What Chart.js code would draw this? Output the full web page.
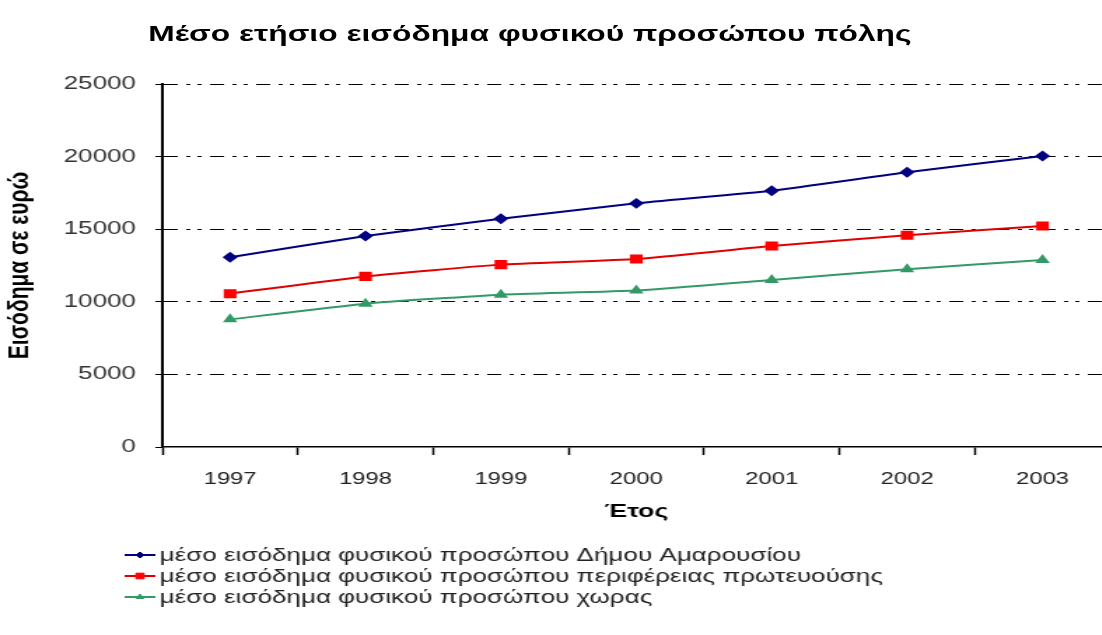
<!DOCTYPE html>
<html>
<head>
<meta charset="utf-8">
<script src="https://cdn.jsdelivr.net/npm/chart.js@4.4.1/dist/chart.umd.min.js"></script>
<style>
  html, body { margin: 0; padding: 0; background: #fff; overflow: hidden; }
  #stage {
    position: relative;
    width: 800px;
    height: 635px;
    transform: scaleX(1.4);
    transform-origin: 0 0;
  }
  #title {
    position: absolute;
    left: 0;
    top: 22px;
    width: 757px;
    text-align: center;
    font: bold 22.7px "Liberation Sans", Arial, sans-serif;
    line-height: 23px;
    color: #000;
  }
  #box { position: absolute; left: 0; top: 0; width: 800px; height: 635px; }
</style>
</head>
<body>
<div id="stage">
  <div id="title">Μέσο ετήσιο εισόδημα φυσικού προσώπου πόλης</div>
  <div id="box"><canvas id="incomeChart"></canvas></div>
</div>
<script>
const years = ["1997", "1998", "1999", "2000", "2001", "2002", "2003"];
const amarousio = [13070, 14530, 15720, 16780, 17650, 18920, 20040];
const capital = [10560, 11750, 12560, 12950, 13840, 14580, 15220];
const country = [8790, 9870, 10490, 10770, 11500, 12240, 12880];
const seriesNames = [
  "μέσο εισόδημα φυσικού προσώπου Δήμου Αμαρουσίου",
  "μέσο εισόδημα φυσικού προσώπου περιφέρειας πρωτευούσης",
  "μέσο εισόδημα φυσικού προσώπου χωρας",
];
const yTicks = [0, 5000, 10000, 15000, 20000, 25000];

const FONT = "'Liberation Sans', Arial, sans-serif";

// legend drawn inside the canvas, one row per series
const rowLegend = {
  id: "rowLegend",
  afterDraw(chart) {
    const ctx = chart.ctx;
    const rows = [555, 576, 597];
    chart.data.datasets.forEach((ds, i) => {
      const y = rows[i];
      ctx.save();
      ctx.strokeStyle = ds.borderColor;
      ctx.lineWidth = 2;
      ctx.beginPath();
      ctx.moveTo(89, y);
      ctx.lineTo(111, y);
      ctx.stroke();
      ctx.fillStyle = ds.pointBackgroundColor;
      ctx.strokeStyle = ds.pointBorderColor;
      ctx.lineWidth = 1;
      Chart.helpers.drawPoint(ctx, {
        pointStyle: ds.pointStyle,
        radius: ds.pointRadius - 1,
        rotation: 0,
        borderWidth: 1,
      }, 100, y);
      ctx.fillStyle = "#222";
      ctx.font = "18.6px " + FONT;
      ctx.textBaseline = "middle";
      ctx.textAlign = "left";
      ctx.fillText(ds.label, 114, y + 1);
      ctx.restore();
    });
  },
};

new Chart(document.getElementById("incomeChart"), {
  type: "line",
  data: {
    labels: years,
    datasets: [
      {
        label: seriesNames[0],
        data: amarousio,
        borderColor: "#000080",
        pointBackgroundColor: "#000080",
        pointBorderColor: "#000080",
        pointStyle: "rectRot",
        pointRadius: 4,
        borderWidth: 2,
        tension: 0.15,
      },
      {
        label: seriesNames[1],
        data: capital,
        borderColor: "#e00000",
        pointBackgroundColor: "#ff0000",
        pointBorderColor: "#ff0000",
        pointStyle: "rect",
        pointRadius: 5,
        borderWidth: 2,
        tension: 0.15,
      },
      {
        label: seriesNames[2],
        data: country,
        borderColor: "#339966",
        pointBackgroundColor: "#339966",
        pointBorderColor: "#339966",
        pointStyle: "triangle",
        pointRadius: 4,
        borderWidth: 2,
        tension: 0.15,
      },
    ],
  },
  options: {
    responsive: true,
    maintainAspectRatio: false,
    animation: false,
    layout: { padding: { top: 84, right: 5, bottom: 100, left: 0 } },
    plugins: {
      legend: { display: false },
      tooltip: { enabled: false },
    },
    scales: {
      x: {
        offset: true,
        afterFit: (scale) => { scale.height = 88; },
        grid: {
          offset: true,
          drawOnChartArea: false,
          drawTicks: true,
          tickLength: 8,
          tickColor: "#000",
          tickWidth: 1.5,
        },
        border: { color: "#000", width: 1.5 },
        ticks: {
          color: "#222",
          padding: 14,
          maxRotation: 0,
          font: { family: FONT, size: 17 },
        },
        title: {
          display: true,
          text: "Έτος",
          color: "#000",
          padding: { top: 0, bottom: 12 },
          font: { family: FONT, size: 19, weight: "bold" },
        },
      },
      y: {
        min: 0,
        max: 25000,
        afterFit: (scale) => { scale.width = 116; },
        afterBuildTicks: (scale) => {
          scale.ticks = yTicks.map((v) => ({ value: v }));
        },
        grid: {
          color: (c) => (c.tick && c.tick.value === 0 ? "rgba(0,0,0,0)" : "#000"),
          lineWidth: 1,
          drawTicks: true,
          tickLength: 5,
          tickColor: "#000",
          tickWidth: 1,
          tickBorderDash: [],
        },
        border: { color: "#000", width: 2, dash: [10, 6, 3, 5, 3, 6] },
        ticks: {
          color: "#333",
          padding: 14,
          font: { family: FONT, size: 18.5 },
          callback: (v) => String(v),
        },
        title: {
          display: true,
          text: "Εισόδημα σε ευρώ",
          color: "#000",
          padding: { top: 2, bottom: 0 },
          font: { family: FONT, size: 21, weight: "bold" },
        },
      },
    },
  },
  plugins: [rowLegend],
});
</script>
</body>
</html>
